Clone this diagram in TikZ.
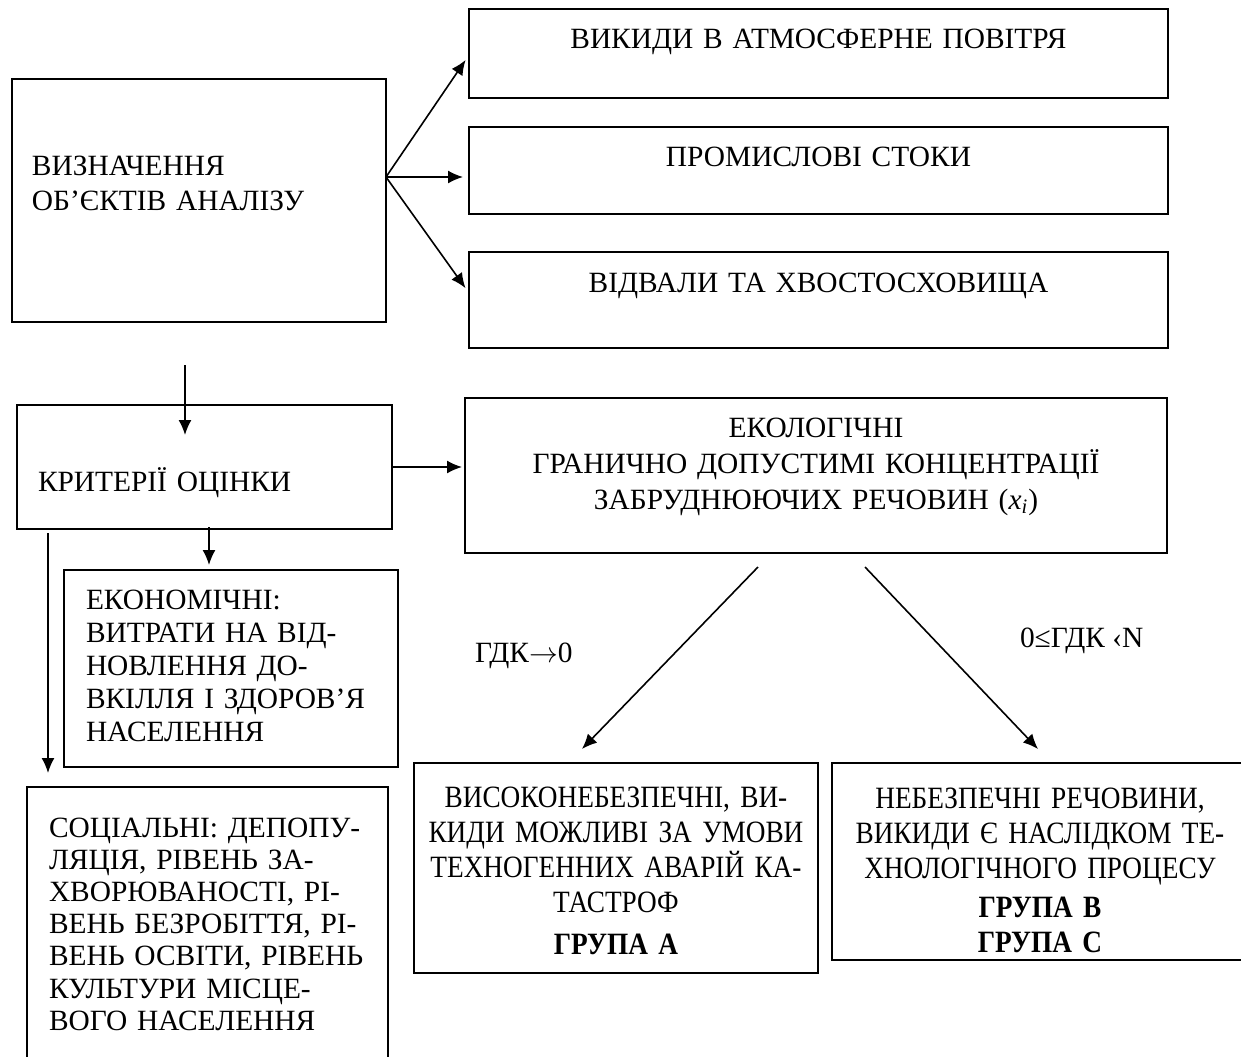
\documentclass[tikz,border=0pt]{standalone}
\usepackage{fontspec}
\setmainfont{Liberation Serif}
\newfontfamily\condfont[FakeStretch=0.88]{Liberation Serif}
\usetikzlibrary{arrows.meta,calc}
\begin{document}
\begin{tikzpicture}[x=0.5pt,y=-0.5pt,inner sep=0pt,outer sep=0pt,line width=0.8pt,
>={Latex[length=7.5pt,width=6.5pt]},font=\fontsize{14.7}{17.5}\selectfont,
cblock/.style={draw,rectangle,anchor=north west,align=center,inner sep=0pt},
lblock/.style={draw,rectangle,anchor=north west,align=left,inner xsep=10pt,inner ysep=0pt},
grblock/.style={cblock,font=\condfont\fontsize{15.5}{17.5}\selectfont}]
\useasboundingbox (0,0) rectangle (1241,1056);
\draw (12,79) node[lblock,text width=167pt,text height=48pt,text depth=73.5pt] (obj) {ВИЗНАЧЕННЯ\\ОБ’ЄКТІВ АНАЛІЗУ};
\draw (469,9) node[cblock,text width=349.5pt,text height=19.5pt,text depth=25pt] (atm) {ВИКИДИ В АТМОСФЕРНЕ ПОВІТРЯ};
\draw (469,127) node[cblock,text width=349.5pt,text height=19.5pt,text depth=24pt] (stok) {ПРОМИСЛОВІ СТОКИ};
\draw (469,252) node[cblock,text width=349.5pt,text height=20pt,text depth=28pt] (vidv) {ВІДВАЛИ ТА ХВОСТОСХОВИЩА};
\coordinate (fork) at ($(obj.north east)+(0,98)$);
\draw[->,shorten >=3pt] (fork) -- ($(atm.west)+(0,1.5)$);
\draw[->,shorten >=3pt] (fork) -- (fork -| stok.west);
\draw[->,shorten >=3pt] (fork) -- ($(vidv.west)+(0,-7)$);
\draw (17,405) node[lblock,inner xsep=10.5pt,text width=166.5pt,text height=43pt,text depth=19pt] (krit) {КРИТЕРІЇ ОЦІНКИ};
\draw[->] ($(obj.south)+(-14,43)$) -- ($(krit.north)+(-19.5,30)$);
\draw (465,398) node[cblock,text width=351pt,text height=19.5pt,text depth=58pt,font=\fontsize{14.7}{18}\selectfont] (ekol) {ЕКОЛОГІЧНІ\\ГРАНИЧНО ДОПУСТИМІ КОНЦЕНТРАЦІЇ\\ЗАБРУДНЮЮЧИХ РЕЧОВИН (\textit{x}\textsubscript{\textit{i}})};
\draw[->,shorten >=1.5pt] (krit.east) -- (krit.east -| ekol.west);
\draw (64,570) node[lblock,inner xsep=11pt,text width=145pt,text height=19.5pt,text depth=79pt,font=\fontsize{14.7}{16.5}\selectfont] (econ) {ЕКОНОМІЧНІ:\\ВИТРАТИ НА ВІД-\\НОВЛЕННЯ ДО-\\ВКІЛЛЯ І ЗДОРОВ’Я\\НАСЕЛЕННЯ};
\draw[->] ($(krit.south)+(4.5,-2)$) -- ($(econ.north)+(-22,-5)$);
\draw (27,787) node[lblock,inner xsep=11pt,text width=158.5pt,text height=25pt,text depth=121.5pt,font=\fontsize{14.7}{16.1}\selectfont] (soc) {СОЦІАЛЬНІ: ДЕПОПУ-\\ЛЯЦІЯ, РІВЕНЬ ЗА-\\ХВОРЮВАНОСТІ, РІ-\\ВЕНЬ БЕЗРОБІТТЯ, РІ-\\ВЕНЬ ОСВІТИ, РІВЕНЬ\\КУЛЬТУРИ МІСЦЕ-\\ВОГО НАСЕЛЕННЯ};
\draw[->] ($(krit.south west)+(31,4)$) -- ($(soc.north west)+(21,-14)$);
\draw (414,763) node[grblock,text width=202pt,text height=22pt,text depth=83pt] (grA) {ВИСОКОНЕБЕЗПЕЧНІ, ВИ-\\КИДИ МОЖЛИВІ ЗА УМОВИ\\ТЕХНОГЕННИХ АВАРІЙ КА-\\ТАСТРОФ\\[3.5pt]\textbf{ГРУПА А}};
\draw (832,763) node[grblock,text width=208pt,text height=22.5pt,text depth=76pt] (grBC) {НЕБЕЗПЕЧНІ РЕЧОВИНИ,\\ВИКИДИ Є НАСЛІДКОМ ТЕ-\\ХНОЛОГІЧНОГО ПРОЦЕСУ\\[2pt]\textbf{ГРУПА В}\\\textbf{ГРУПА С}};
\draw[->] ($(ekol.south)+(-58,14)$) -- ($(grA.north)+(-34,-14)$);
\draw[->] ($(ekol.south)+(49,14)$) -- ($(grBC.north)+(-2,-14)$);
\draw (475,662) node[anchor=base west] (lblA) {ГДК\ensuremath{\rightarrow}0};
\draw (1020,647) node[anchor=base west] (lblBC) {0≤ГДК ‹N};
\end{tikzpicture}
\end{document}
